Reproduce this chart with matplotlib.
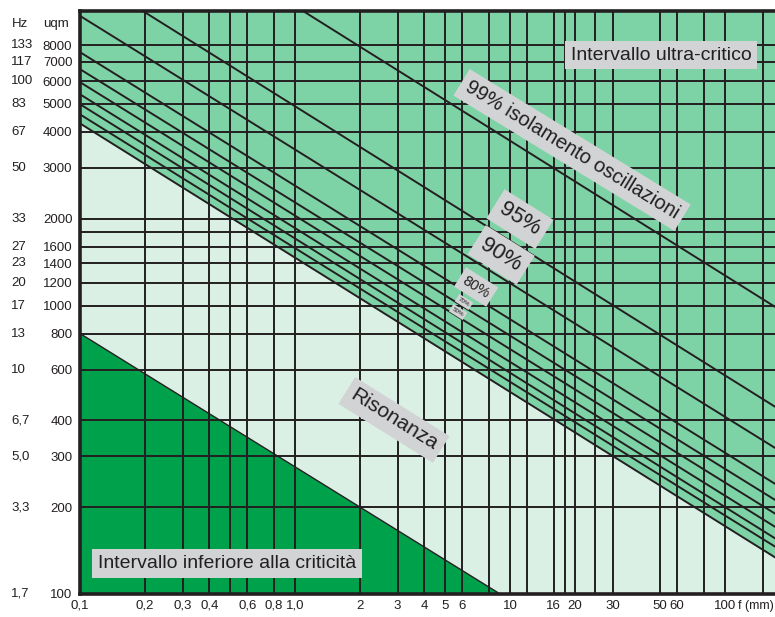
import matplotlib
matplotlib.use("Agg")
import matplotlib.pyplot as plt
from matplotlib.ticker import FixedLocator, FixedFormatter, NullLocator
from matplotlib.transforms import blended_transform_factory

# static deflection f (mm): gridlines and their labels
f_grid = [0.1, 0.2, 0.3, 0.4, 0.5, 0.6, 0.8, 1.0, 2, 3, 4, 5, 6, 8, 10, 12,
          16, 18, 20, 25, 30, 50, 60, 80, 100, 150]
f_labels = ["0,1", "0,2", "0,3", "0,4", "", "0,6", "0,8", "1,0", "2", "3", "4",
            "5", "6", "", "10", "", "16", "", "20", "", "30", "50", "60", "",
            "100", ""]

# speed (uqm) gridlines, with the matching Hz column
uqm_grid = [100, 200, 300, 400, 600, 800, 1000, 1200, 1400, 1600, 1800, 2000,
            3000, 4000, 5000, 6000, 7000, 8000]
uqm_labels = ["100", "200", "300", "400", "600", "800", "1000", "1200", "1400",
              "1600", "", "2000", "3000", "4000", "5000", "6000", "7000", "8000"]
hz_labels = ["1,7", "3,3", "5,0", "6,7", "10", "13", "17", "20", "23", "27", "",
             "33", "50", "67", "83", "100", "117", "133"]

# isolation lines: start (f, uqm) and end (f, uqm)
iso_names = ["99%", "95%", "90%", "80%", "70%", "60%", "50%", "40%", "30%", "0%"]
iso_f0 = [1.09, 0.196, 0.1, 0.1, 0.1, 0.1, 0.1, 0.1, 0.1, 0.1]
iso_u0 = [10500, 10500, 10100, 7560, 6600, 5950, 5400, 4990, 4600, 4280]
iso_f1 = [171, 171, 171, 171, 171, 171, 171, 171, 171, 171]
iso_u1 = [990, 446, 321, 241, 212, 190, 171, 156, 146, 134]

# lower edge of the resonance band
low_f = [0.1, 9.0]
low_u = [800, 100]

F_MIN, F_MAX = 0.1, 171
U_MIN, U_MAX = 100, 10500

MID = "#7ed3a6"
LIGHT = "#daf0e5"
DARK = "#00a14b"
INK = "#231f20"
BOX = "#d1d3d4"

plt.rcParams["font.family"] = ["Liberation Sans", "DejaVu Sans"]

fig = plt.figure(figsize=(7.75, 6.17), dpi=100)
ax = fig.add_axes([80 / 775, 23 / 617, 695 / 775, 583 / 617])
ax.set_facecolor(MID)
ax.set_xscale("log"); ax.set_yscale("log")
ax.set_xlim(F_MIN, F_MAX); ax.set_ylim(U_MIN, U_MAX)

# bands
ax.fill_between([iso_f0[-1], iso_f1[-1]], [iso_u0[-1], iso_u1[-1]], U_MIN,
                color=LIGHT, lw=0, zorder=1)
ax.fill_between(low_f, low_u, U_MIN, color=DARK, lw=0, zorder=1.1)
ax.plot(low_f, low_u, color=INK, lw=1.0, zorder=2)

for f0, u0, f1, u1 in zip(iso_f0, iso_u0, iso_f1, iso_u1):
    ax.plot([f0, f1], [u0, u1], color=INK, lw=1.4, zorder=2)

# grid
ax.xaxis.set_major_locator(FixedLocator(f_grid))
ax.xaxis.set_major_formatter(FixedFormatter(f_labels))
ax.xaxis.set_minor_locator(NullLocator())
ax.yaxis.set_major_locator(FixedLocator(uqm_grid))
ax.yaxis.set_major_formatter(FixedFormatter(uqm_labels))
ax.yaxis.set_minor_locator(NullLocator())
ax.grid(True, color=INK, lw=1.4)
ax.tick_params(axis="both", length=0, labelsize=9.5, colors=INK)
ax.tick_params(axis="x", pad=4)
ax.tick_params(axis="y", pad=5.5)

for s in ("left", "bottom", "top"):
    ax.spines[s].set_linewidth(2.6)
    ax.spines[s].set_color(INK)
ax.spines["right"].set_visible(False)

# Hz column and headers
tr = blended_transform_factory(fig.transFigure, ax.transData)
for u, h in zip(uqm_grid, hz_labels):
    ax.text(11 / 775, u, h, transform=tr, ha="left", va="center",
            fontsize=9.5, color=INK, clip_on=False)
fig.text(12 / 775, 1 - 24 / 617, "Hz", ha="left", va="center", fontsize=9.5, color=INK)
fig.text(43 / 775, 1 - 24 / 617, "uqm", ha="left", va="center", fontsize=9.5, color=INK)
fig.text(738 / 775, 1 - 600 / 617, "f (mm)", ha="left", va="top", fontsize=9, color=INK)

# labels in grey boxes
def boxed(x, y, s, size, rot=0, pad=0.3):
    ax.text(x, y, s, transform=ax.transAxes, ha="center", va="center",
            rotation=rot, rotation_mode="anchor", fontsize=size, color=INK,
            zorder=5, bbox=dict(boxstyle=f"square,pad={pad}", fc=BOX, ec="none"))

boxed(0.836, 0.9245, "Intervallo ultra-critico", 14)
boxed(0.708, 0.7616, "99% isolamento oscillazioni", 14.5, rot=-31.5)
boxed(0.633, 0.643, "95%", 16, rot=-32)
boxed(0.606, 0.5815, "90%", 16, rot=-32)
boxed(0.570, 0.5266, "80%", 10.5, rot=-32)
boxed(0.5525, 0.5009, "70%", 4.5, rot=-32)
boxed(0.544, 0.4837, "50%", 4.5, rot=-32)
boxed(0.4518, 0.2985, "Risonanza", 15, rot=-32)
boxed(0.2115, 0.0523, "Intervallo inferiore alla criticità", 14)

fig.savefig("out.png", dpi=100)
